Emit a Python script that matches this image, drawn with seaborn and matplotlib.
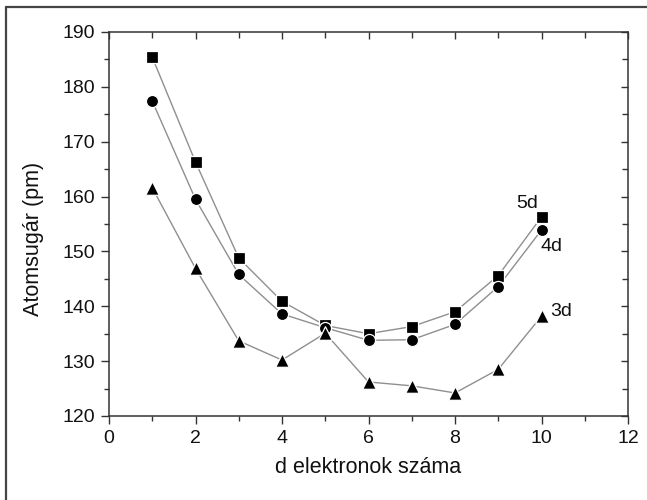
import numpy as np
import pandas as pd
import matplotlib
matplotlib.use("Agg")
import matplotlib.pyplot as plt
import seaborn as sns
from matplotlib.ticker import MultipleLocator
from matplotlib.lines import Line2D

# ---- data ----
d_electrons = [1, 2, 3, 4, 5, 6, 7, 8, 9, 10]
radius_5d = [185.4, 166.3, 148.8, 140.9, 136.5, 135.0, 136.3, 139.0, 145.6, 156.3]
radius_4d = [177.4, 159.5, 145.8, 138.6, 136.1, 133.8, 133.9, 136.7, 143.6, 153.9]
radius_3d = [161.6, 146.9, 133.7, 130.2, 135.1, 126.2, 125.5, 124.2, 128.5, 138.2]
series_names = ["5d", "4d", "3d"]
x_label = "d elektronok száma"
y_label = "Atomsugár (pm)"

sns.set_theme(style="white")
plt.rcParams["font.family"] = ["Liberation Sans", "DejaVu Sans"]

df = pd.DataFrame({
    "x": d_electrons * 3,
    "y": radius_5d + radius_4d + radius_3d,
    "series": sum([[n] * len(d_electrons) for n in series_names], []),
})

fig = plt.figure(figsize=(6.47, 5.0), dpi=100)
ax = fig.add_axes([109 / 647, 84 / 500, 519 / 647, 384 / 500])

line_color = "#8f8f8f"
markers = {"5d": "s", "4d": "o", "3d": "^"}
sizes = {"5d": 64, "4d": 76, "3d": 96}

for name in series_names:
    sub = df[df["series"] == name]
    sns.lineplot(data=sub, x="x", y="y", color=line_color, linewidth=1.0,
                 ax=ax, zorder=2, legend=False, sort=False)
    sns.scatterplot(data=sub, x="x", y="y", marker=markers[name], s=sizes[name],
                    color="black", edgecolor="white", linewidth=0.9,
                    ax=ax, zorder=3, legend=False)

# series labels
label_pos = {"5d": (9.66, 158.8), "4d": (10.23, 150.9), "3d": (10.45, 139.1)}
for name in series_names:
    lx, ly = label_pos[name]
    ax.text(lx, ly, name, fontsize=14, ha="center", va="center", color="#111111")

ax.set_xlim(0, 12)
ax.set_ylim(120, 190)
ax.xaxis.set_major_locator(MultipleLocator(2))
ax.xaxis.set_minor_locator(MultipleLocator(1))
ax.yaxis.set_major_locator(MultipleLocator(10))
ax.yaxis.set_minor_locator(MultipleLocator(5))

spine_color = "#333333"
for sp in ax.spines.values():
    sp.set_color(spine_color)
    sp.set_linewidth(1.1)

ax.tick_params(axis="both", which="major", direction="out", length=6, width=1.0,
               color=spine_color, labelsize=14, labelcolor="#111111", pad=4,
               bottom=True, left=True, top=False, right=False)
ax.tick_params(axis="both", which="minor", direction="out", length=3.5, width=1.0,
               color=spine_color, bottom=True, left=True, top=False, right=False)

# mirrored inward ticks on top and right
secx = ax.secondary_xaxis("top")
secx.xaxis.set_major_locator(MultipleLocator(2))
secx.xaxis.set_minor_locator(MultipleLocator(1))
secx.tick_params(axis="x", which="both", direction="in", length=4, width=1.0,
                 color=spine_color, labeltop=False)
secx.tick_params(axis="x", which="major", length=5)
secx.spines["top"].set_visible(False)
secy = ax.secondary_yaxis("right")
secy.yaxis.set_major_locator(MultipleLocator(10))
secy.yaxis.set_minor_locator(MultipleLocator(5))
secy.tick_params(axis="y", which="both", direction="in", length=4, width=1.0,
                 color=spine_color, labelright=False)
secy.tick_params(axis="y", which="major", length=5)
secy.spines["right"].set_visible(False)

ax.set_xlabel(x_label, fontsize=15.5, color="#111111", labelpad=7)
ax.set_ylabel(y_label, fontsize=15.5, color="#111111")
ax.yaxis.set_label_coords(-0.125, 0.46)

# partial frame around the figure (left and top edges)
fig.add_artist(Line2D([6 / 647, 6 / 647], [0, 1 - 7 / 500], transform=fig.transFigure,
                      color="#444444", linewidth=1.6))
fig.add_artist(Line2D([6 / 647, 1], [1 - 7 / 500, 1 - 7 / 500], transform=fig.transFigure,
                      color="#444444", linewidth=1.6))

fig.savefig("out.png", dpi=100, facecolor="white")
